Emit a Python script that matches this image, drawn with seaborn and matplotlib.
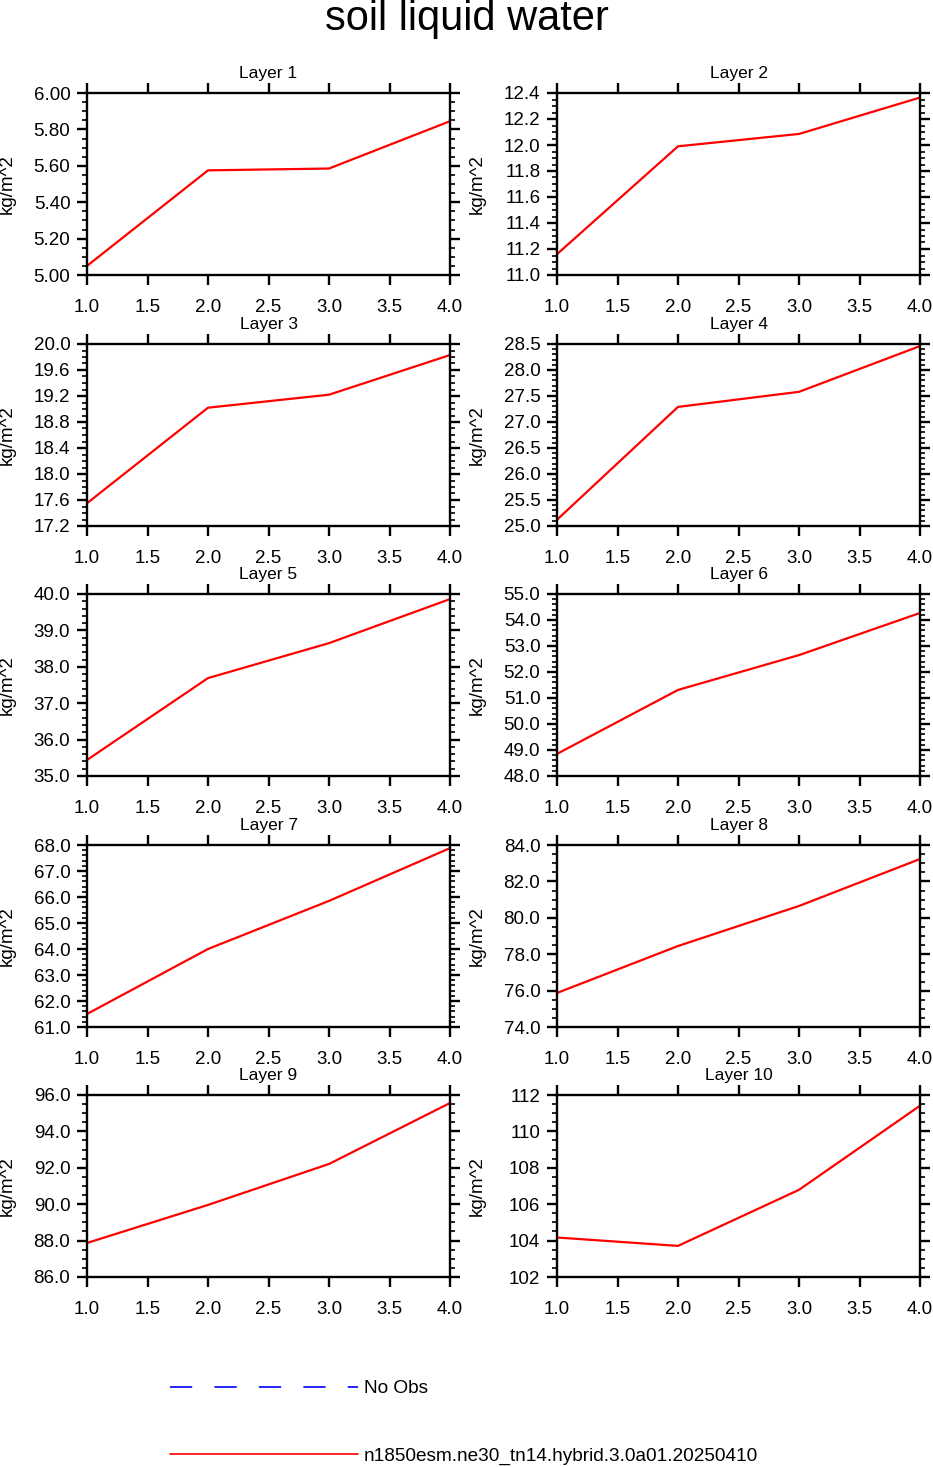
import numpy as np
import pandas as pd
import matplotlib
matplotlib.use("Agg")
import matplotlib.pyplot as plt
from matplotlib.ticker import MultipleLocator, FormatStrFormatter, NullLocator
from matplotlib.lines import Line2D
import seaborn as sns

# dados
years = [1.0, 2.0, 3.0, 4.0]
layer_names = ["Layer 1", "Layer 2", "Layer 3", "Layer 4", "Layer 5",
               "Layer 6", "Layer 7", "Layer 8", "Layer 9", "Layer 10"]
layer1 = [5.05, 5.575, 5.585, 5.845]
layer2 = [11.16, 11.99, 12.085, 12.365]
layer3 = [17.55, 19.02, 19.22, 19.83]
layer4 = [25.12, 27.29, 27.58, 28.46]
layer5 = [35.44, 37.69, 38.65, 39.86]
layer6 = [48.85, 51.31, 52.65, 54.27]
layer7 = [61.5, 64.0, 65.85, 67.88]
layer8 = [75.87, 78.45, 80.65, 83.23]
layer9 = [87.87, 89.96, 92.21, 95.56]
layer10 = [104.17, 103.71, 106.79, 111.41]
layers = [layer1, layer2, layer3, layer4, layer5,
          layer6, layer7, layer8, layer9, layer10]

# limites e passos dos eixos y (min, max, major, minor, formato)
y_axes = [(5.0, 6.0, 0.2, 0.05, "%.2f"), (11.0, 12.4, 0.2, 0.05, "%.1f"),
          (17.2, 20.0, 0.4, 0.1, "%.1f"), (25.0, 28.5, 0.5, 0.1, "%.1f"),
          (35.0, 40.0, 1.0, 0.2, "%.1f"), (48.0, 55.0, 1.0, 0.2, "%.1f"),
          (61.0, 68.0, 1.0, 0.2, "%.1f"), (74.0, 84.0, 2.0, 0.5, "%.1f"),
          (86.0, 96.0, 2.0, 0.5, "%.1f"), (102.0, 112.0, 2.0, 0.5, "%.0f")]

units = "kg/m^2"
obs_label = "No Obs"
case_label = "n1850esm.ne30_tn14.hybrid.3.0a01.20250410"

sns.set_style("ticks")
plt.rcParams['font.family'] = ['Liberation Sans', 'DejaVu Sans']
plt.rcParams['lines.scale_dashes'] = False
for k in ['text.color', 'axes.labelcolor', 'xtick.color', 'ytick.color', 'axes.edgecolor']:
    plt.rcParams[k] = 'black'

W, H = 933, 1467
fig = plt.figure(figsize=(W / 100, H / 100), dpi=100)

col_x = [87, 557]
row_top = [93, 344, 594, 845, 1095]
pw, ph = 363, 182

for i, vals in enumerate(layers):
    r, c = divmod(i, 2)
    ax = fig.add_axes([col_x[c] / W, 1 - (row_top[r] + ph) / H, pw / W, ph / H])
    df = pd.DataFrame({"x": years, "y": vals})
    sns.lineplot(data=df, x="x", y="y", ax=ax, color="red", linewidth=1.6)
    ymin, ymax, major, minor, fmt = y_axes[i]
    ax.set_xlim(1.0, 4.0)
    ax.set_ylim(ymin, ymax)
    ax.xaxis.set_major_locator(MultipleLocator(0.5))
    ax.xaxis.set_minor_locator(NullLocator())
    ax.xaxis.set_major_formatter(FormatStrFormatter("%.1f"))
    ax.yaxis.set_major_locator(MultipleLocator(major))
    ax.yaxis.set_minor_locator(MultipleLocator(minor))
    ax.yaxis.set_major_formatter(FormatStrFormatter(fmt))
    for s in ax.spines.values():
        s.set_visible(True)
        s.set_linewidth(1.7)
    ax.tick_params(which="major", direction="out", length=7, width=1.7,
                   top=True, right=True, labelsize=13.5, pad=5)
    ax.tick_params(which="minor", direction="out", length=3.5, width=1.2,
                   left=True, right=True)
    ax.tick_params(axis="x", which="major", pad=10)
    ax.set_xlabel("")
    ax.set_ylabel(units, fontsize=13.5)
    ax.yaxis.set_label_coords(-0.196, 0.5)
    ax.set_title(layer_names[i], fontsize=12.5, y=1.0, pad=10.5)

fig.text(0.5, 1 - 19 / H, "soil liquid water", ha="center", va="center",
         fontsize=30)

handles = [Line2D([], [], color="blue", linewidth=1.2, dashes=(16, 16)),
           Line2D([], [], color="red", linewidth=1.2)]
fig.legend(handles, [obs_label, case_label], loc="upper left",
           bbox_to_anchor=(170 / W, 1 - 1380 / H), frameon=False,
           borderpad=0, borderaxespad=0, fontsize=13.7, handlelength=9.9,
           handletextpad=0.3, labelspacing=2.62)

fig.savefig("out.png", dpi=100)
